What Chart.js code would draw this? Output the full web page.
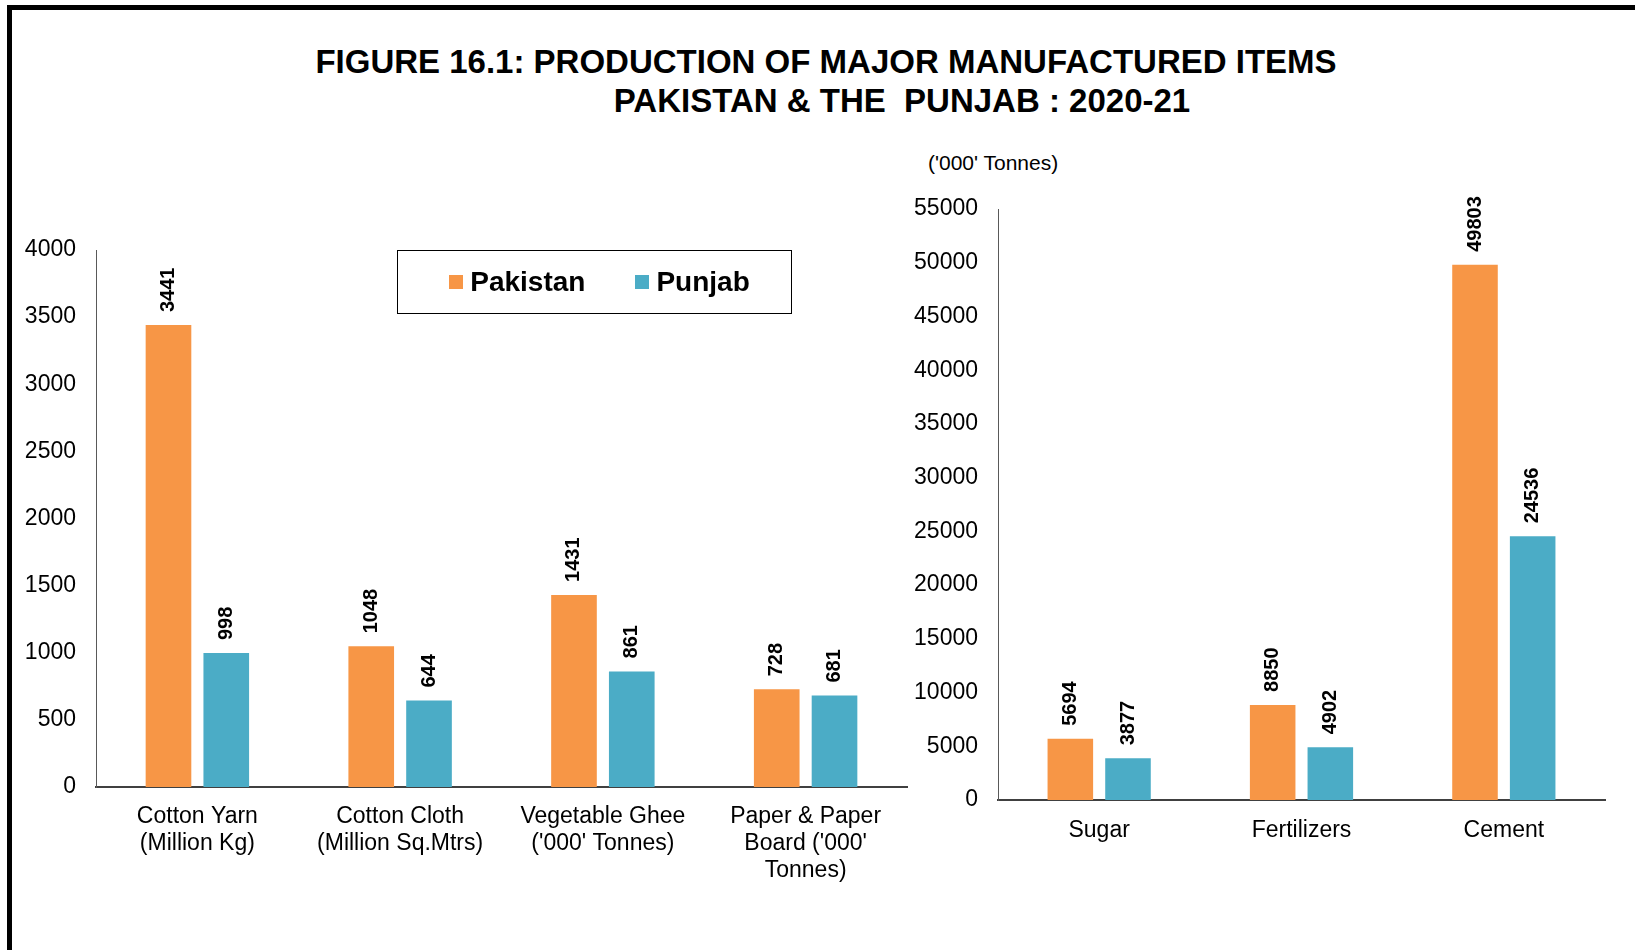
<!DOCTYPE html>
<html>
<head>
<meta charset="utf-8">
<script src="https://cdn.jsdelivr.net/npm/chart.js@4.4.1/dist/chart.umd.min.js"></script>
<style>
  body { margin: 0; background: #fff; width: 1635px; height: 950px; overflow: hidden; position: relative; font-family: "Liberation Sans", Arial, sans-serif; }
  .frame { position: absolute; left: 7px; top: 5px; right: -10px; bottom: -10px; border-top: 5px solid #000; border-left: 5px solid #000; }
  .title { position: absolute; width: 1300px; text-align: center; font-weight: bold; font-size: 33px; line-height: 36px; color: #000; white-space: nowrap; }
  .unit { position: absolute; left: 928px; top: 151px; font-size: 21px; line-height: 24px; color: #000; }
  .legend { position: absolute; left: 397px; top: 250px; width: 395px; height: 64px; box-sizing: border-box; border: 1.5px solid #000; display: flex; align-items: center; justify-content: center; gap: 50px; padding-left: 10px; }
  .legend .item { display: flex; align-items: center; font-weight: bold; font-size: 28px; color: #000; }
  .legend .box { width: 14px; height: 14px; margin-right: 7px; }
  canvas { position: absolute; }
  #leftWrap { position: absolute; left: 15px; top: 200px; width: 910px; height: 740px; }
  #rightWrap { position: absolute; left: 880px; top: 140px; width: 755px; height: 810px; }
</style>
</head>
<body>
<div class="frame"></div>
<div class="title" style="left:176px; top:44px;">FIGURE 16.1: PRODUCTION OF MAJOR MANUFACTURED ITEMS</div>
<div class="title" style="left:252px; top:83px;">PAKISTAN &amp; THE&nbsp; PUNJAB : 2020-21</div>
<div class="unit">('000' Tonnes)</div>
<div id="leftWrap"><canvas id="leftChart"></canvas></div>
<div id="rightWrap"><canvas id="rightChart"></canvas></div>
<div class="legend" id="legend"></div>
<script>
const seriesNames = ["Pakistan", "Punjab"];
const seriesColors = ["#F79646", "#4BACC6"];

const leftCategories = [
  ["Cotton Yarn", "(Million Kg)"],
  ["Cotton Cloth", "(Million Sq.Mtrs)"],
  ["Vegetable Ghee", "('000' Tonnes)"],
  ["Paper & Paper", "Board ('000'", "Tonnes)"],
];
const leftPakistan = [3441, 1048, 1431, 728];
const leftPunjab = [998, 644, 861, 681];

const rightCategories = ["Sugar", "Fertilizers", "Cement"];
const rightPakistan = [5694, 8850, 49803];
const rightPunjab = [3877, 4902, 24536];

const fontFamily = "'Liberation Sans', Arial, sans-serif";

const barValueLabels = {
  id: "barValueLabels",
  afterDatasetsDraw(chart) {
    const ctx = chart.ctx;
    ctx.save();
    ctx.font = "bold 20px " + fontFamily;
    ctx.fillStyle = "#000";
    ctx.textAlign = "left";
    ctx.textBaseline = "middle";
    chart.data.datasets.forEach((ds, i) => {
      chart.getDatasetMeta(i).data.forEach((bar, j) => {
        ctx.save();
        ctx.translate(bar.x, bar.y - 13);
        ctx.rotate(-Math.PI / 2);
        ctx.fillText(String(ds.data[j]), 0, 0);
        ctx.restore();
      });
    });
    ctx.restore();
  },
};

const makeConfig = (labels, pak, pun, max, step, axisW, axisH, labelPad, padding) => {
  const datasets = [pak, pun].map((values, i) => ({
    label: seriesNames[i],
    data: values,
    backgroundColor: seriesColors[i],
    categoryPercentage: 0.57,
    barPercentage: 0.79,
  }));
  return {
    type: "bar",
    data: { labels: labels, datasets: datasets },
    plugins: [barValueLabels],
    options: {
      responsive: true,
      maintainAspectRatio: false,
      animation: false,
      layout: { padding: padding },
      plugins: {
        legend: { display: false },
        tooltip: { enabled: false },
      },
      scales: {
        x: {
          grid: { display: false, drawTicks: false },
          border: { display: true, color: "#404040", width: 2 },
          ticks: {
            color: "#000",
            padding: labelPad,
            maxRotation: 0,
            autoSkip: false,
            font: { family: fontFamily, size: 23, lineHeight: 1.17 },
          },
          afterFit: (scale) => { scale.height = axisH; },
        },
        y: {
          min: 0,
          max: max,
          grid: { display: false, drawTicks: false },
          border: { display: true, color: "#595959", width: 1 },
          ticks: {
            stepSize: step,
            color: "#000",
            padding: 20,
            font: { family: fontFamily, size: 23 },
            callback: (value) => String(value),
          },
          afterFit: (scale) => { scale.width = axisW; },
        },
      },
    },
  };
};

new Chart(
  document.getElementById("leftChart"),
  makeConfig(leftCategories, leftPakistan, leftPunjab, 4000, 500, 81, 153, 16, { top: 50, right: 18, bottom: 0, left: 0 })
);
new Chart(
  document.getElementById("rightChart"),
  makeConfig(rightCategories, rightPakistan, rightPunjab, 55000, 5000, 118, 150, 17, { top: 69, right: 30, bottom: 0, left: 0 })
);

const legend = document.getElementById("legend");
seriesNames.forEach((name, i) => {
  const item = document.createElement("div");
  item.className = "item";
  const box = document.createElement("span");
  box.className = "box";
  box.style.background = seriesColors[i];
  item.appendChild(box);
  item.appendChild(document.createTextNode(name));
  legend.appendChild(item);
});
</script>
</body>
</html>
